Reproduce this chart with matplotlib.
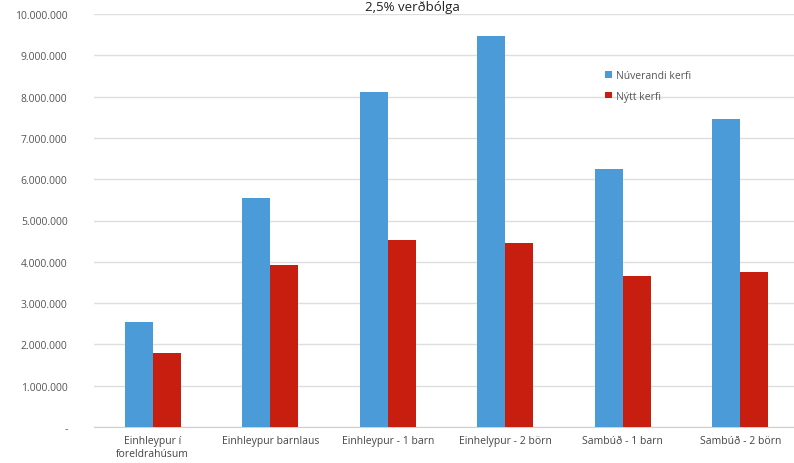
import numpy as np
import matplotlib.pyplot as plt
from matplotlib.ticker import FuncFormatter

# Gögn lesin af myndinni
flokkar = ['Einhleypur í\nforeldrahúsum', 'Einhleypur barnlaus', 'Einhleypur - 1 barn',
           'Einhelypur - 2 börn', 'Sambúð - 1 barn', 'Sambúð - 2 börn']
nuverandi = [2550000, 5550000, 8100000, 9470000, 6250000, 7450000]
nytt = [1800000, 3920000, 4520000, 4450000, 3650000, 3750000]

plt.rcParams['font.family'] = ['Open Sans', 'DejaVu Sans']

fig = plt.figure(figsize=(7.94, 4.64), dpi=100)
ax = fig.add_axes([94 / 794, 36 / 464, 705 / 794, 413 / 464])

x = np.arange(len(flokkar))
b = 0.24
ax.bar(x - b / 2, nuverandi, b, color='#4a9bd8', label='Núverandi kerfi', zorder=3)
ax.bar(x + b / 2, nytt, b, color='#c81e0f', label='Nýtt kerfi', zorder=3)

ax.set_xlim(-0.5, 5.5)
ax.set_ylim(0, 10000000)
ax.set_yticks(np.arange(0, 10000001, 1000000))


def fmt(v, pos):
    if v == 0:
        return '-'
    return f'{int(v):,}'.replace(',', '.')


ax.yaxis.set_major_formatter(FuncFormatter(fmt))
ax.grid(axis='y', color='#dedede', linewidth=1, zorder=0)
for s in ['top', 'right', 'left']:
    ax.spines[s].set_visible(False)
ax.spines['bottom'].set_color('#d0d0d0')
ax.tick_params(axis='y', length=0, pad=19, labelsize=7.5, labelcolor='#555555')
ax.tick_params(axis='x', length=0, pad=6, labelsize=7.5, labelcolor='#444444')
ax.set_xticks(x)
ax.set_xticklabels(flokkar, linespacing=1.2)

fig.text(0.52, 1 - 11 / 464, '2,5% verðbólga', ha='center', va='baseline', fontsize=9.5, color='#222222')

ax.legend(loc='upper left', bbox_to_anchor=(596 / 794, 1 - 62 / 464), bbox_transform=fig.transFigure,
          frameon=False, fontsize=7.5, labelcolor='#555555', handlelength=0.6, handleheight=0.6,
          handletextpad=0.4, labelspacing=0.9)

fig.savefig('out.png', dpi=100)
